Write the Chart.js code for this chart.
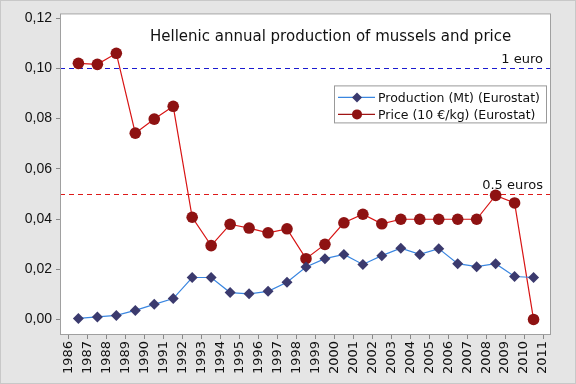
<!DOCTYPE html>
<html>
<head>
<meta charset="utf-8">
<script src="https://cdn.jsdelivr.net/npm/chart.js@4"></script>
<style>
  html, body { margin: 0; padding: 0; background: #e5e5e5; }
  #wrap { width: 576px; height: 384px; box-sizing: border-box; border: 1px solid #c8c8c8; }
</style>
</head>
<body>
<div id="wrap"><canvas id="mussels" width="574" height="382"></canvas></div>
<script>
// years on the axis (tick labels sit on the boundaries)
const years = ['1986','1987','1988','1989','1990','1991','1992','1993','1994','1995','1996','1997','1998',
  '1999','2000','2001','2002','2003','2004','2005','2006','2007','2008','2009','2010','2011'];

const production = [0.0004, 0.0010, 0.0016, 0.0036, 0.0060, 0.0083, 0.0167, 0.0167, 0.0107, 0.0102,
  0.0112, 0.0148, 0.0209, 0.0242, 0.0259, 0.0219, 0.0254, 0.0284, 0.0259, 0.0282, 0.0222, 0.0210,
  0.0222, 0.0171, 0.0167];

const price = [0.1020, 0.1016, 0.1060, 0.0742, 0.0798, 0.0849, 0.0407, 0.0294, 0.0379, 0.0364,
  0.0345, 0.0361, 0.0242, 0.0299, 0.0385, 0.0419, 0.0381, 0.0399, 0.0399, 0.0399, 0.0399, 0.0399,
  0.0494, 0.0464, 0.0000];

const yTicks = [0, 0.02, 0.04, 0.06, 0.08, 0.10, 0.12];
const refLines = [
  { value: 0.10, label: '1 euro', color: '#1a1ad0' },
  { value: 0.05, label: '0.5 euros', color: '#dd1a1a' }
];
const titleText = 'Hellenic annual production of mussels and price';

// each value is plotted in the middle of its year interval
const toPoints = arr => arr.map((v, i) => ({ x: i + 0.5, y: v }));

const overlay = {
  id: 'overlay',
  beforeDraw(chart) {
    const { ctx, chartArea: a } = chart;
    ctx.save();
    ctx.fillStyle = '#ffffff';
    ctx.fillRect(a.left, a.top, a.right - a.left, a.bottom - a.top);
    ctx.restore();
  },
  beforeDatasetsDraw(chart) {
    const { ctx, chartArea: a, scales } = chart;
    ctx.save();
    ctx.lineWidth = 1;
    ctx.setLineDash([5, 4]);
    ctx.font = '13px "DejaVu Sans"';
    ctx.textAlign = 'right';
    ctx.textBaseline = 'bottom';
    refLines.forEach(r => {
      const y = Math.round(scales.y.getPixelForValue(r.value)) + 0.5;
      ctx.strokeStyle = r.color;
      ctx.beginPath();
      ctx.moveTo(a.left, y);
      ctx.lineTo(a.right, y);
      ctx.stroke();
      ctx.fillStyle = '#111';
      ctx.fillText(r.label, a.right - 8, y - 2);
    });
    ctx.restore();
  },
  afterDraw(chart) {
    const { ctx, chartArea: a } = chart;
    ctx.save();
    // frame
    ctx.strokeStyle = '#a0a0a0';
    ctx.lineWidth = 1;
    ctx.strokeRect(a.left + 0.5, a.top + 0.5, a.right - a.left - 1, a.bottom - a.top - 1);
    // title inside plot
    ctx.fillStyle = '#111';
    ctx.font = '15px "DejaVu Sans"';
    ctx.textAlign = 'left';
    ctx.textBaseline = 'middle';
    ctx.fillText(titleText, a.left + 90, a.top + 24);
    // legend box
    const lx = a.left + 274, ly = a.top + 72, lw = 212, lh = 37;
    ctx.fillStyle = '#fff';
    ctx.fillRect(lx, ly, lw, lh);
    ctx.strokeStyle = '#999';
    ctx.strokeRect(lx + 0.5, ly + 0.5, lw, lh);
    ctx.font = '12.5px "DejaVu Sans"';
    chart.data.datasets.forEach((ds, i) => {
      const y = ly + 12 + i * 17;
      ctx.strokeStyle = ds.legendLine;
      ctx.lineWidth = 1.2;
      ctx.beginPath();
      ctx.moveTo(lx + 4, y);
      ctx.lineTo(lx + 41, y);
      ctx.stroke();
      ctx.fillStyle = ds.pointBackgroundColor;
      ctx.beginPath();
      if (ds.pointStyle === 'circle') {
        ctx.arc(lx + 23, y, 5, 0, Math.PI * 2);
      } else {
        ctx.moveTo(lx + 23, y - 5); ctx.lineTo(lx + 28, y);
        ctx.lineTo(lx + 23, y + 5); ctx.lineTo(lx + 18, y);
        ctx.closePath();
      }
      ctx.fill();
      ctx.fillStyle = '#111';
      ctx.fillText(ds.label, lx + 44, y + 1);
    });
    ctx.restore();
  }
};

new Chart(document.getElementById('mussels'), {
  type: 'line',
  data: {
    datasets: [
      {
        label: 'Production (Mt) (Eurostat)',
        data: toPoints(production),
        borderColor: '#3a86e0',
        borderWidth: 1.2,
        pointStyle: 'rectRot',
        pointRadius: 5.5,
        pointBackgroundColor: '#3b3a6e',
        pointBorderColor: '#3b3a6e',
        pointBorderWidth: 0,
        legendLine: '#3a86e0',
        tension: 0
      },
      {
        label: 'Price (10 €/kg) (Eurostat)',
        data: toPoints(price),
        borderColor: '#d81414',
        borderWidth: 1.2,
        pointStyle: 'circle',
        pointRadius: 5.8,
        pointBackgroundColor: '#8e1212',
        pointBorderColor: '#8e1212',
        pointBorderWidth: 0,
        legendLine: '#a01414',
        tension: 0
      }
    ]
  },
  options: {
    responsive: false,
    animation: false,
    layout: { padding: { left: 0, right: 24, top: 11, bottom: 0 } },
    plugins: { legend: { display: false }, title: { display: false }, tooltip: { enabled: false } },
    scales: {
      x: {
        type: 'linear',
        min: -0.47,
        max: 25.42,
        afterBuildTicks: s => { s.ticks = years.map((y, i) => ({ value: i })); },
        afterFit: s => { s.height = 48; },
        border: { display: false },
        grid: { drawOnChartArea: false, tickLength: 4, color: '#888' },
        ticks: {
          minRotation: 90, maxRotation: 90, padding: 2,
          color: '#111',
          font: { family: 'DejaVu Sans', size: 13 },
          callback: v => years[v]
        }
      },
      y: {
        min: -0.0062,
        max: 0.1219,
        afterBuildTicks: s => { s.ticks = yTicks.map(v => ({ value: v })); },
        afterFit: s => { s.width = 59; },
        border: { display: false },
        grid: { drawOnChartArea: false, tickLength: 4, color: '#888' },
        ticks: {
          padding: 4,
          color: '#111',
          font: { family: 'Liberation Sans', size: 14 },
          callback: v => v.toFixed(2).replace('.', ',')
        }
      }
    }
  },
  plugins: [overlay]
});
</script>
</body>
</html>
